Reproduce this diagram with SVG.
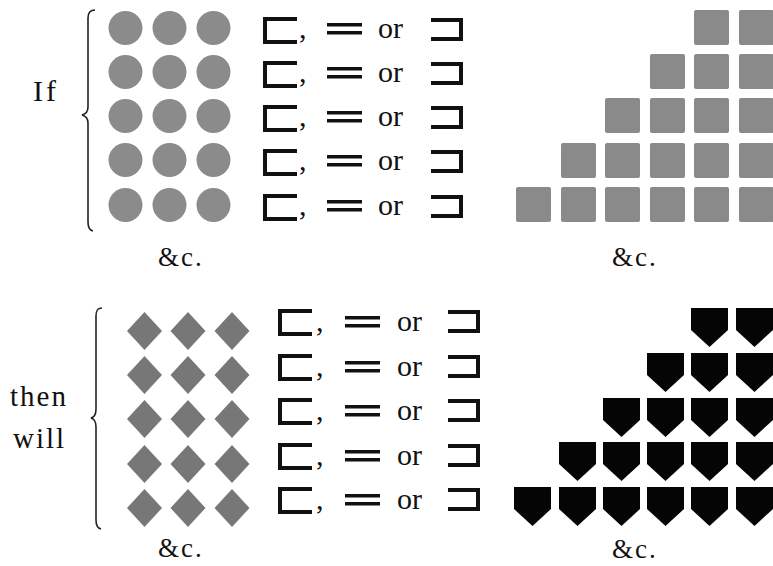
<svg xmlns="http://www.w3.org/2000/svg" width="773" height="566" viewBox="0 0 773 566">
<defs>
<style>
.t{font-family:"Liberation Serif","DejaVu Serif",serif;fill:#111}
.big{font-size:29px;letter-spacing:2px}
.or{font-size:30px}
.br{fill:none;stroke:#222;stroke-width:1.6}
.sym{fill:none;stroke:#111;stroke-width:4;stroke-linejoin:miter}
.bar{fill:#111}
.circ{fill:#8b8b8b}
.sq{fill:#8a8a8a}
.dia{fill:#777}
.pen{fill:#050505}
</style>
<g id="lsq"><path class="sym" d="M32 0 H0 V23 H32"/></g>
<g id="rsq"><path class="sym" d="M0 0 H30 V19 H0"/></g>
<g id="eq"><rect class="bar" x="0" y="0" width="35" height="3.5"/><rect class="bar" x="0" y="8" width="35" height="3.5"/></g>
<polygon id="pent" points="0,0 37,0 37,22 18.5,39 0,22"/>
<polygon id="dmd" points="0,-19 17.5,0 0,19 -17.5,0"/>
</defs>
<rect width="773" height="566" fill="#fff"/>

<g id="top-label">
<text class="t big" x="33" y="101" style="font-size:30px;letter-spacing:3px">If</text>
<path class="br" d="M95 10 C90 10 88 13 88 18 L88 107 C88 112 86 114 82 115 C86 116 88 118 88 123 L88 222 C88 227 89 230 93 231"/>
</g>

<g id="circles">
<circle class="circ" cx="125.5" cy="28" r="17"/><circle class="circ" cx="169.5" cy="28" r="17"/><circle class="circ" cx="213.5" cy="28" r="17"/>
<circle class="circ" cx="125.5" cy="72" r="17"/><circle class="circ" cx="169.5" cy="72" r="17"/><circle class="circ" cx="213.5" cy="72" r="17"/>
<circle class="circ" cx="125.5" cy="116" r="17"/><circle class="circ" cx="169.5" cy="116" r="17"/><circle class="circ" cx="213.5" cy="116" r="17"/>
<circle class="circ" cx="125.5" cy="160" r="17"/><circle class="circ" cx="169.5" cy="160" r="17"/><circle class="circ" cx="213.5" cy="160" r="17"/>
<circle class="circ" cx="125.5" cy="205" r="17"/><circle class="circ" cx="169.5" cy="205" r="17"/><circle class="circ" cx="213.5" cy="205" r="17"/>
</g>

<g id="top-symbols">
<g transform="translate(265,19)"><use href="#lsq"/><text class="t or" x="34" y="19">,</text><use href="#eq" x="62" y="4"/><text class="t or" x="113" y="19">or</text><use href="#rsq" x="166" y="1"/></g>
<g transform="translate(265,63)"><use href="#lsq"/><text class="t or" x="34" y="19">,</text><use href="#eq" x="62" y="4"/><text class="t or" x="113" y="19">or</text><use href="#rsq" x="166" y="1"/></g>
<g transform="translate(265,107)"><use href="#lsq"/><text class="t or" x="34" y="19">,</text><use href="#eq" x="62" y="4"/><text class="t or" x="113" y="19">or</text><use href="#rsq" x="166" y="1"/></g>
<g transform="translate(265,151)"><use href="#lsq"/><text class="t or" x="34" y="19">,</text><use href="#eq" x="62" y="4"/><text class="t or" x="113" y="19">or</text><use href="#rsq" x="166" y="1"/></g>
<g transform="translate(265,196)"><use href="#lsq"/><text class="t or" x="34" y="19">,</text><use href="#eq" x="62" y="4"/><text class="t or" x="113" y="19">or</text><use href="#rsq" x="166" y="1"/></g>
</g>

<g id="squares">
<rect class="sq" x="694" y="10" width="35" height="35" rx="2"/><rect class="sq" x="739" y="10" width="35" height="35" rx="2"/>
<rect class="sq" x="650" y="54" width="35" height="35" rx="2"/><rect class="sq" x="694" y="54" width="35" height="35" rx="2"/><rect class="sq" x="739" y="54" width="35" height="35" rx="2"/>
<rect class="sq" x="605" y="98" width="35" height="35" rx="2"/><rect class="sq" x="650" y="98" width="35" height="35" rx="2"/><rect class="sq" x="694" y="98" width="35" height="35" rx="2"/><rect class="sq" x="739" y="98" width="35" height="35" rx="2"/>
<rect class="sq" x="561" y="143" width="35" height="35" rx="2"/><rect class="sq" x="605" y="143" width="35" height="35" rx="2"/><rect class="sq" x="650" y="143" width="35" height="35" rx="2"/><rect class="sq" x="694" y="143" width="35" height="35" rx="2"/><rect class="sq" x="739" y="143" width="35" height="35" rx="2"/>
<rect class="sq" x="516" y="187" width="35" height="35" rx="2"/><rect class="sq" x="561" y="187" width="35" height="35" rx="2"/><rect class="sq" x="605" y="187" width="35" height="35" rx="2"/><rect class="sq" x="650" y="187" width="35" height="35" rx="2"/><rect class="sq" x="694" y="187" width="35" height="35" rx="2"/><rect class="sq" x="739" y="187" width="35" height="35" rx="2"/>
</g>

<g id="top-etc">
<text class="t big" x="158" y="266" style="font-size:27px">&amp;c.</text>
<text class="t big" x="612" y="266" style="font-size:27px">&amp;c.</text>
</g>

<g id="bottom-label">
<text class="t big" x="10" y="406">then</text>
<text class="t big" x="13" y="448">will</text>
<path class="br" d="M102 308 C97 308 96 311 96 316 L96 409 C96 414 95 417 91 418 C95 419 96 422 96 427 L96 520 C96 525 97 528 101 529"/>
</g>

<g id="diamonds">
<use href="#dmd" class="dia" x="144.5" y="331"/><use href="#dmd" class="dia" x="188" y="331"/><use href="#dmd" class="dia" x="232" y="331"/>
<use href="#dmd" class="dia" x="144.5" y="375"/><use href="#dmd" class="dia" x="188" y="375"/><use href="#dmd" class="dia" x="232" y="375"/>
<use href="#dmd" class="dia" x="144.5" y="419"/><use href="#dmd" class="dia" x="188" y="419"/><use href="#dmd" class="dia" x="232" y="419"/>
<use href="#dmd" class="dia" x="144.5" y="464"/><use href="#dmd" class="dia" x="188" y="464"/><use href="#dmd" class="dia" x="232" y="464"/>
<use href="#dmd" class="dia" x="144.5" y="508"/><use href="#dmd" class="dia" x="188" y="508"/><use href="#dmd" class="dia" x="232" y="508"/>
</g>

<g id="bottom-symbols">
<g transform="translate(280,311)"><use href="#lsq"/><text class="t or" x="36" y="20">,</text><use href="#eq" x="65" y="5"/><text class="t or" x="117" y="20">or</text><use href="#rsq" x="168" y="1"/></g>
<g transform="translate(280,356)"><use href="#lsq"/><text class="t or" x="36" y="20">,</text><use href="#eq" x="65" y="5"/><text class="t or" x="117" y="20">or</text><use href="#rsq" x="168" y="1"/></g>
<g transform="translate(280,400)"><use href="#lsq"/><text class="t or" x="36" y="20">,</text><use href="#eq" x="65" y="5"/><text class="t or" x="117" y="20">or</text><use href="#rsq" x="168" y="1"/></g>
<g transform="translate(280,445)"><use href="#lsq"/><text class="t or" x="36" y="20">,</text><use href="#eq" x="65" y="5"/><text class="t or" x="117" y="20">or</text><use href="#rsq" x="168" y="1"/></g>
<g transform="translate(280,489)"><use href="#lsq"/><text class="t or" x="36" y="20">,</text><use href="#eq" x="65" y="5"/><text class="t or" x="117" y="20">or</text><use href="#rsq" x="168" y="1"/></g>
</g>

<g id="pentagons" class="pen">
<use href="#pent" x="691" y="308"/><use href="#pent" x="736" y="308"/>
<use href="#pent" x="647" y="353"/><use href="#pent" x="691" y="353"/><use href="#pent" x="736" y="353"/>
<use href="#pent" x="603" y="398"/><use href="#pent" x="647" y="398"/><use href="#pent" x="691" y="398"/><use href="#pent" x="736" y="398"/>
<use href="#pent" x="559" y="442"/><use href="#pent" x="603" y="442"/><use href="#pent" x="647" y="442"/><use href="#pent" x="691" y="442"/><use href="#pent" x="736" y="442"/>
<use href="#pent" x="514" y="487"/><use href="#pent" x="559" y="487"/><use href="#pent" x="603" y="487"/><use href="#pent" x="647" y="487"/><use href="#pent" x="691" y="487"/><use href="#pent" x="736" y="487"/>
</g>

<g id="bottom-etc">
<text class="t big" x="158" y="557" style="font-size:27px">&amp;c.</text>
<text class="t big" x="612" y="558" style="font-size:27px">&amp;c.</text>
</g>
</svg>
